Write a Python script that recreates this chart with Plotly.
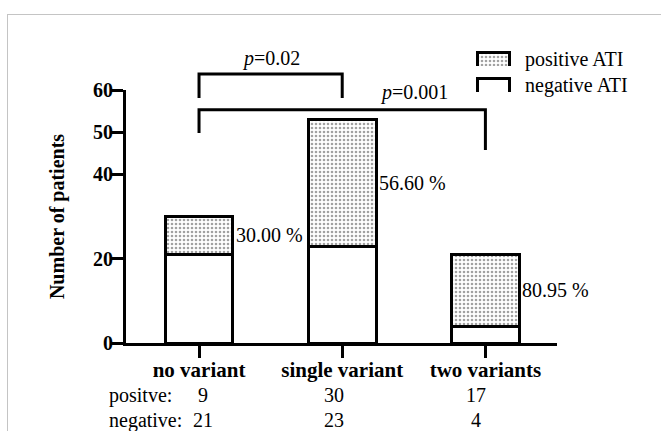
import plotly.graph_objects as go

# ---- data ----
categories = ["no variant", "single variant", "two variants"]
positive = [9, 30, 17]
negative = [21, 23, 4]
y_ticks = [0, 20, 40, 50, 60]
p_values = ["0.02", "0.001"]
row_labels = ["positve:", "negative:"]
legend_labels = ["positive ATI", "negative ATI"]

percent = [p / (p + n) * 100 for p, n in zip(positive, negative)]
percent_labels = [f"{v:.2f} %" for v in percent]

# ---- layout constants (pixel geometry of the figure) ----
W, H = 661, 431
PL, PR, PT, PB = 126, 557, 90, 343     # plot area in pixels
XR = [-0.51, 2.5]
YR = [0, 60]
FONT = "Liberation Serif"
BAR_W = 0.474
LW = 3
PATTERN = dict(shape=".", fgcolor="#444", bgcolor="white",
               size=4, solidity=0.33, fillmode="overlay")


def fx(pix):  # pixel -> paper x
    return pix / W


def fy(pix):  # pixel -> paper y
    return 1 - pix / H


def px(i):  # category position -> paper x
    return fx(PL + (i - XR[0]) / (XR[1] - XR[0]) * (PR - PL))


def py(v):  # value -> paper y
    return fy(PB - (v - YR[0]) / (YR[1] - YR[0]) * (PB - PT))


fig = go.Figure()
fig.add_trace(go.Bar(
    x=categories, y=negative, name=legend_labels[1], width=BAR_W,
    marker=dict(color="white", line=dict(color="black", width=LW)),
    showlegend=False,
))
fig.add_trace(go.Bar(
    x=categories, y=positive, name=legend_labels[0], width=BAR_W,
    marker=dict(color="white", line=dict(color="black", width=LW),
                pattern=PATTERN),
    showlegend=False,
))

# legend keys drawn as small bars on hidden overlay axes
fig.add_trace(go.Bar(
    x=[0], y=[1.2], base=[-0.2], width=[1], xaxis="x2", yaxis="y2",
    marker=dict(color="white", line=dict(color="black", width=LW),
                pattern=PATTERN),
    showlegend=False, hoverinfo="skip"))
fig.add_trace(go.Bar(
    x=[0], y=[1.2], base=[-0.2], width=[1], xaxis="x2", yaxis="y3",
    marker=dict(color="white", line=dict(color="black", width=LW)),
    showlegend=False, hoverinfo="skip"))

annotations = []
shapes = []
TXT = dict(family=FONT, size=20, color="black")

# legend labels
for lab, yy in zip(legend_labels, [60, 85]):
    annotations.append(dict(
        x=fx(523), y=fy(yy), xref="paper", yref="paper", text=lab,
        showarrow=False, xanchor="left", yanchor="middle", font=TXT))

# percentage labels right of bars
for i, (p, n, lab) in enumerate(zip(positive, negative, percent_labels)):
    annotations.append(dict(
        x=px(i + BAR_W / 2), y=py(n + p / 2), xref="paper", yref="paper",
        text=lab, showarrow=False, xanchor="left", yanchor="middle",
        xshift=1, font=TXT))

# significance brackets
brackets = [
    (0, 1, 63.8, 58.1, 58.1, p_values[0], 0.5, 64.2),
    (0, 2, 55.3, 49.8, 45.8, p_values[1], 1.5, 56.2),
]
for x0, x1, top, l0, l1, pv, tx, ty in brackets:
    shapes.append(dict(
        type="path", xref="paper", yref="paper",
        path=(f"M{px(x0)},{py(l0)} L{px(x0)},{py(top)} "
              f"L{px(x1)},{py(top)} L{px(x1)},{py(l1)}"),
        line=dict(color="black", width=LW)))
    annotations.append(dict(
        x=px(tx), y=py(ty), xref="paper", yref="paper",
        text=f"<i>p</i>={pv}", showarrow=False, xanchor="center",
        yanchor="bottom", font=TXT))

# table under the axis
row_y = [fy(395), fy(420)]
for lab, yy in zip(row_labels, row_y):
    annotations.append(dict(
        x=fx(107), y=yy, xref="paper", yref="paper", text=lab,
        showarrow=False, xanchor="left", yanchor="middle", font=TXT))
shifts = [4, -8, -9]
for i, (p, n) in enumerate(zip(positive, negative)):
    for val, yy in zip([p, n], row_y):
        annotations.append(dict(
            x=px(i), y=yy, xref="paper", yref="paper", text=str(val),
            showarrow=False, xanchor="center", yanchor="middle",
            xshift=shifts[i], font=TXT))

# light grey frame (top and left edges)
shapes.append(dict(type="line", xref="paper", yref="paper",
                   x0=fx(7), x1=1, y0=fy(14.5), y1=fy(14.5),
                   line=dict(color="#c4c4c4", width=1)))
shapes.append(dict(type="line", xref="paper", yref="paper",
                   x0=fx(7.5), x1=fx(7.5), y0=fy(14), y1=0,
                   line=dict(color="#c4c4c4", width=1)))

hidden = dict(visible=False, fixedrange=True, showgrid=False, zeroline=False)

fig.update_layout(
    width=W, height=H,
    margin=dict(l=0, r=0, t=0, b=0),
    barmode="stack",
    plot_bgcolor="rgba(0,0,0,0)", paper_bgcolor="white",
    font=TXT,
    showlegend=False,
    annotations=annotations,
    shapes=shapes,
    xaxis=dict(domain=[fx(PL), fx(PR)], range=XR, anchor="y",
               showline=True, linewidth=LW, linecolor="black",
               ticks="outside", ticklen=12, tickwidth=LW, tickcolor="black",
               tickfont=dict(family=FONT, size=21, color="black", weight="bold"),
               ticklabelstandoff=-6, automargin=False,
               showgrid=False, zeroline=False, fixedrange=True),
    yaxis=dict(domain=[fy(PB), fy(PT)], range=YR, anchor="x",
               tickvals=y_ticks, showline=True, linewidth=LW,
               linecolor="black", ticks="outside", ticklen=12, tickwidth=LW,
               tickcolor="black", ticklabelstandoff=-6, automargin=False,
               tickfont=dict(family=FONT, size=20, color="black", weight="bold"),
               showgrid=False, zeroline=False, fixedrange=True,
               title=dict(text="Number of patients", standoff=24,
                          font=dict(family=FONT, size=20, color="black",
                                    weight="bold"))),
    xaxis2=dict(domain=[fx(476), fx(511)], range=[-0.55, 0.55],
                anchor="y2", **hidden),
    yaxis2=dict(domain=[fy(66), fy(51)], range=[0, 1.15],
                anchor="x2", **hidden),
    yaxis3=dict(domain=[fy(92), fy(77)], range=[0, 1.15],
                anchor="x2", **hidden),
)

fig.write_html("out.html", config={"displayModeBar": False},
               post_script="document.body.style.margin='0';")
